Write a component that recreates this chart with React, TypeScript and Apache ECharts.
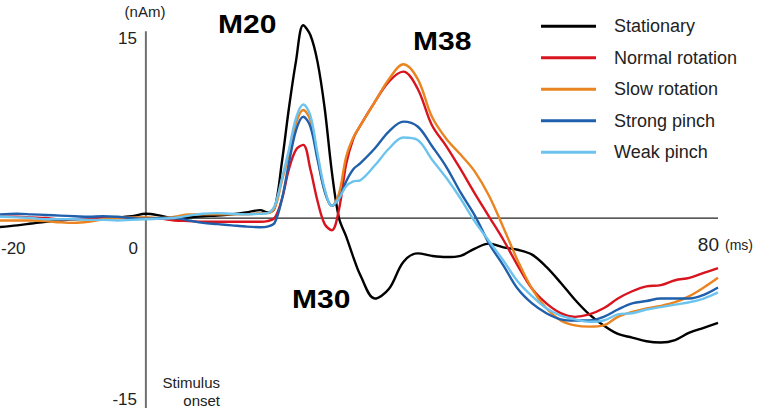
import React, { useEffect, useRef } from "react";
import * as echarts from "echarts";

// Time after stimulus onset (ms)
const times = [
  -20.4, -18, -16, -14, -12, -10, -8, -6, -4, -2, 0, 2, 4, 6, 8, 10, 12, 14, 16, 17, 18, 19, 20, 21,
  22, 23, 24, 25, 26, 27, 28, 29, 30, 32, 34, 36, 38, 40, 42, 44, 46, 48, 50, 52, 54, 56, 58, 60, 62,
  64, 66, 68, 70, 72, 74, 76, 78, 80,
];

// Source strength (nAm) per condition
const stationary = [
  -0.74, -0.6, -0.45, -0.3, -0.2, -0.1, -0.05, 0, 0.05, 0.15, 0.35, 0.2, -0.05, 0.05, 0.15, 0.2, 0.3,
  0.45, 0.65, 0.45, 0.8, 4.5, 9.0, 12.9, 15.8, 15.0, 12.8, 9.0, 3.8, 0.0, -1.5, -3.2, -4.7, -6.6,
  -5.8, -3.6, -2.9, -3.1, -3.2, -3.1, -2.5, -2.1, -2.4, -2.6, -3.0, -4.0, -5.3, -6.7, -7.9, -8.8,
  -9.5, -9.8, -10.1, -10.2, -10.0, -9.4, -9.0, -8.6,
];
const normalRotation = [
  0.1, 0.1, 0.05, 0.0, -0.1, -0.1, -0.05, 0.0, 0.0, 0.0, 0.0, -0.05, -0.2, -0.25, -0.3, -0.3, -0.3,
  -0.3, -0.3, -0.25, 0.0, 1.5, 4.0, 5.6, 6.0, 4.0, 1.4, -0.5, -1.0, 0.7, 4.4, 6.5, 7.6, 9.5, 11.2,
  12.0, 10.6, 7.6, 5.9, 4.0, 2.0, 0.1, -1.8, -3.9, -5.8, -7.0, -7.8, -8.1, -7.9, -7.4, -6.6, -6.0,
  -5.6, -5.5, -5.1, -4.9, -4.5, -4.1,
];
const slowRotation = [
  -0.2, -0.2, -0.2, -0.25, -0.35, -0.4, -0.3, -0.1, 0.0, 0.05, 0.05, 0.0, 0.1, 0.3, 0.3, 0.3, 0.3,
  0.3, 0.4, 0.4, 0.8, 3.0, 5.3, 7.8, 8.85, 8.0, 5.0, 2.2, 1.0, 2.0, 5.0, 6.6, 7.6, 9.5, 11.4, 12.6,
  11.4, 8.3, 6.5, 5.2, 3.8, 1.8, -0.8, -3.5, -5.8, -7.4, -8.4, -8.8, -8.9, -8.8, -8.1, -7.7, -7.4,
  -7.2, -6.9, -6.4, -5.7, -4.9,
];
const strongPinch = [
  0.3, 0.35, 0.3, 0.25, 0.2, 0.15, 0.1, 0.15, 0.1, 0.0, -0.05, 0.0, 0.0, -0.2, -0.4, -0.5, -0.6,
  -0.7, -0.75, -0.7, -0.4, 1.5, 4.5, 7.2, 8.3, 7.5, 4.8, 2.2, 1.0, 1.6, 3.0, 4.0, 4.5, 5.7, 7.1, 7.9,
  7.5, 5.9, 4.2, 2.1, 0.2, -2.1, -3.9, -5.8, -7.0, -7.8, -8.3, -8.4, -8.4, -8.1, -7.5, -7.0, -6.8,
  -6.6, -6.6, -6.6, -6.3, -5.7,
];
const weakPinch = [
  0.1, 0.05, 0.0, -0.1, -0.1, -0.1, -0.15, -0.15, -0.2, -0.15, -0.1, -0.05, 0.0, 0.2, 0.35, 0.4,
  0.35, 0.3, 0.35, 0.4, 1.0, 3.2, 5.6, 8.2, 9.3, 8.4, 5.3, 2.4, 1.0, 1.6, 2.6, 3.0, 3.1, 4.3, 5.7,
  6.6, 6.4, 4.8, 3.3, 1.6, -0.3, -1.9, -3.5, -5.2, -6.4, -7.4, -8.0, -8.3, -8.5, -8.4, -7.9, -7.8,
  -7.5, -7.3, -7.1, -6.9, -6.6, -6.1,
];

const conditions = ["Stationary", "Normal rotation", "Slow rotation", "Strong pinch", "Weak pinch"];
const colors = ["#000000", "#d8141e", "#ea8420", "#1f5fab", "#6cc4ee"];
const valuesByCondition = [stationary, normalRotation, slowRotation, strongPinch, weakPinch];

// Zero reference line, drawn from stimulus onset to the end of the epoch
const baselineX = [0, 80];
// Vertical axis at stimulus onset, spanning the amplitude scale
const onsetAxisY = [-15.6, 15.3];

const FONT = "'Liberation Sans', Arial, sans-serif";

export default function App() {
  const ref = useRef<HTMLDivElement>(null);

  useEffect(() => {
    if (!ref.current) return;
    const chart = echarts.init(ref.current, null, { renderer: "svg" });

    const curves = conditions.map((name, k) => ({
      name,
      type: "line",
      smooth: 0.35,
      showSymbol: false,
      silent: true,
      z: 3,
      lineStyle: { color: colors[k], width: 2.4 },
      itemStyle: { color: colors[k] },
      data: times.map((t, i) => [t, valuesByCondition[k][i]]),
    }));

    const text = (
      style: Record<string, unknown>,
      x: number,
      y: number,
      extra: Record<string, unknown> = {}
    ) => ({ type: "text", x, y, style: { fill: "#111", fontFamily: FONT, ...style }, ...extra });

    chart.setOption({
      animation: false,
      backgroundColor: "#ffffff",
      grid: { left: 0, right: 42, top: 0, bottom: 0, containLabel: false },
      xAxis: {
        type: "value",
        min: -20.4,
        max: 80,
        axisLine: { show: false },
        axisTick: { show: false },
        axisLabel: { show: false },
        splitLine: { show: false },
      },
      yAxis: {
        type: "value",
        min: -15.57,
        max: 17.87,
        axisLine: { show: false },
        axisTick: { show: false },
        axisLabel: { show: false },
        splitLine: { show: false },
      },
      legend: {
        data: conditions,
        orient: "vertical",
        left: 536,
        top: 5.5,
        itemWidth: 55,
        itemHeight: 3,
        itemGap: 0,
        icon: "rect",
        selectedMode: false,
        textStyle: {
          fontFamily: FONT,
          fontSize: 18,
          lineHeight: 31.5,
          color: "#222",
          padding: [0, 0, 0, 13],
        },
      },
      series: [
        {
          name: "onset",
          type: "line",
          silent: true,
          showSymbol: false,
          z: 1,
          lineStyle: { color: "#707070", width: 2 },
          data: onsetAxisY.map((v) => [0, v]),
        },
        {
          name: "baseline",
          type: "line",
          silent: true,
          showSymbol: false,
          z: 1,
          lineStyle: { color: "#222", width: 1.2 },
          data: baselineX.map((t) => [t, 0]),
        },
        ...curves,
      ],
      graphic: [
        text({ text: "(nAm)", fontSize: 15, align: "center", verticalAlign: "middle", fill: "#222" }, 145, 11),
        text({ text: "15", fontSize: 17, align: "right", verticalAlign: "middle", fill: "#222" }, 137, 38),
        text({ text: "-15", fontSize: 17, align: "right", verticalAlign: "middle", fill: "#222" }, 137, 399),
        text({ text: "0", fontSize: 17, align: "right", verticalAlign: "middle", fill: "#222" }, 138, 248),
        text({ text: "-20", fontSize: 17, align: "left", verticalAlign: "middle", fill: "#222" }, 1, 248),
        text({ text: "80", fontSize: 19, align: "right", verticalAlign: "middle", fill: "#222" }, 719, 244),
        text({ text: "(ms)", fontSize: 14, align: "left", verticalAlign: "middle", fill: "#222" }, 725, 245),
        text({ text: "Stimulus", fontSize: 15, align: "right", verticalAlign: "middle", fill: "#222" }, 220, 382),
        text({ text: "onset", fontSize: 15, align: "right", verticalAlign: "middle", fill: "#222" }, 220, 400),
        text({ text: "M20", fontSize: 25, fontWeight: "bold", align: "left", verticalAlign: "middle", fill: "#000" }, 218, 24, { scaleX: 1.2, scaleY: 1 }),
        text({ text: "M38", fontSize: 25, fontWeight: "bold", align: "left", verticalAlign: "middle", fill: "#000" }, 413, 41, { scaleX: 1.2, scaleY: 1 }),
        text({ text: "M30", fontSize: 25, fontWeight: "bold", align: "left", verticalAlign: "middle", fill: "#000" }, 292, 299, { scaleX: 1.2, scaleY: 1 }),
      ],
    });

    return () => chart.dispose();
  }, []);

  return <div ref={ref} style={{ width: 760, height: 408, position: "absolute", left: 0, top: 0 }} />;
}
